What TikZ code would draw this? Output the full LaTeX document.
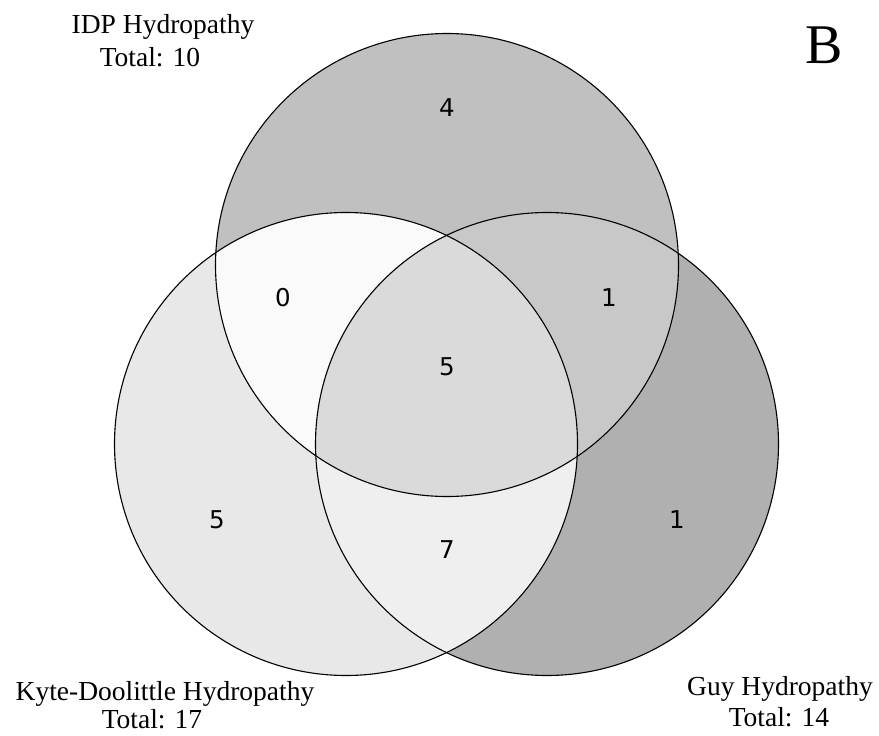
\documentclass[tikz,border=0pt]{standalone}
\usepackage{fontspec}
\setmainfont{Liberation Serif}
\newfontfamily\numfont{DejaVu Sans}
\begin{document}
\begin{tikzpicture}[x=1pt,y=-1pt,
  circ/.style={draw=black,line width=1.1pt},
  lbl/.style={font=\fontsize{27.5}{31}\selectfont,align=center,inner sep=0pt,anchor=base},
  num/.style={font=\numfont\fontsize{24.5}{26}\selectfont,inner sep=0pt}]
\useasboundingbox (0,0) rectangle (879,736);
\def\CT{(447,265) circle [radius=231.5]}
\def\CL{(346,444) circle [radius=231.5]}
\def\CR{(547,444) circle [radius=231.5]}
% single regions
\fill[color={rgb,255:red,232;green,232;blue,232}] \CL;
\fill[color={rgb,255:red,176;green,176;blue,176}] \CR;
\fill[color={rgb,255:red,192;green,192;blue,192}] \CT;
% left & right
\begin{scope}\clip \CL; \fill[color={rgb,255:red,239;green,239;blue,239}] \CR;\end{scope}
% top & left
\begin{scope}\clip \CT; \fill[color={rgb,255:red,250;green,250;blue,250}] \CL;\end{scope}
% top & right
\begin{scope}\clip \CT; \fill[color={rgb,255:red,200;green,200;blue,200}] \CR;\end{scope}
% center
\begin{scope}\clip \CT; \clip \CL; \fill[color={rgb,255:red,218;green,218;blue,218}] \CR;\end{scope}
% outlines
\draw[circ] \CL;
\draw[circ] \CR;
\draw[circ] \CT;
% counts
\node[num] (n4) at (447,108) {4};
\node[num] (n0) at (283,298) {0};
\node[num] (n1a) at (609,298) {1};
\node[num] (n5c) at (447,367) {5};
\node[num] (n5l) at (217,520) {5};
\node[num] (n7) at (447,550) {7};
\node[num] (n1b) at (677,520) {1};
% labels
\node[lbl] (idp) at (163,34) {IDP Hydropathy};
\node[lbl] (idpt) at (150,66) {Total: 10};
\node[lbl] (kd) at (165,700) {Kyte-Doolittle Hydropathy};
\node[lbl] (kdt) at (152,728) {Total: 17};
\node[lbl] (guy) at (780,695) {Guy Hydropathy};
\node[lbl] (guyt) at (779,726) {Total: 14};
\node[font=\fontsize{56}{60}\selectfont,inner sep=0pt,anchor=base] (B) at (824,63) {B};
\end{tikzpicture}
\end{document}
